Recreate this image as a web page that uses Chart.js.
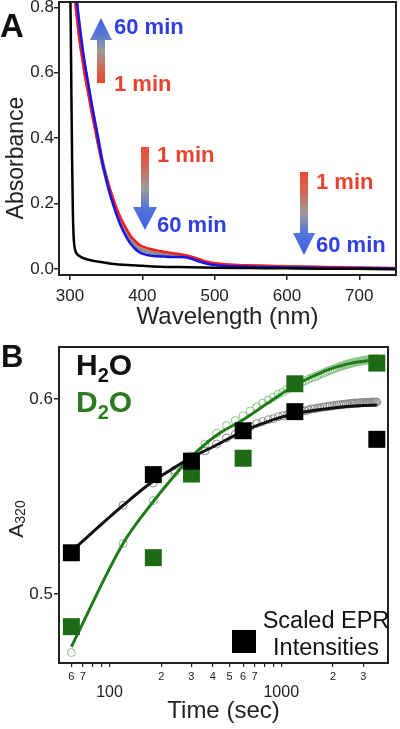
<!DOCTYPE html>
<html>
<head>
<meta charset="utf-8">
<title>Absorbance and A320 kinetics</title>
<script src="https://cdn.jsdelivr.net/npm/chart.js@4.4.1/dist/chart.umd.min.js"></script>
<style>
  body { margin: 0; background: #fff; }
  #page { position: relative; width: 400px; height: 729px; overflow: hidden; font-family: 'Liberation Sans', Arial, sans-serif; color: #111; }
  canvas { position: absolute; left: 0; }
  .lbl { position: absolute; line-height: 1; white-space: nowrap; }
  .bold { font-weight: bold; }
  .red { color: #e8432f; }
  .blue { color: #3040e0; }
  .rot { position: absolute; transform: translate(-50%, -50%) rotate(-90deg); line-height: 1; white-space: nowrap; color: #222; }
  .sub2 { font-size: 20px; position: relative; top: 7px; }
  .arrow { position: absolute; }
</style>
</head>
<body>
<div id="page">
  <canvas id="chartA" width="400" height="335" style="top:0px"></canvas>
  <canvas id="chartB" width="400" height="394" style="top:335px"></canvas>

  <!-- panel A labels and arrows -->
  <div class="lbl bold" style="left:0px; top:9px; font-size:33px;">A</div>
  <div class="rot" style="left:15px; top:158px; font-size:23px;">Absorbance</div>

  <div class="arrow" style="left:90px; top:18px; width:22px; height:65px;
       clip-path: polygon(11px 0, 22px 22px, 15px 22px, 15px 65px, 7px 65px, 7px 22px, 0 22px);
       background: linear-gradient(to top, #ec4a36 0%, #d9604f 20%, #9c9c9c 50%, #5577d8 75%, #3f63e4 100%);"></div>
  <div class="lbl bold blue" style="left:114px; top:16px; font-size:22px;">60 min</div>
  <div class="lbl bold red" style="left:114px; top:73px; font-size:22px;">1 min</div>

  <div class="arrow" style="left:133px; top:147px; width:24px; height:83px;
       clip-path: polygon(8px 0, 16px 0, 16px 60px, 24px 60px, 12px 83px, 0 60px, 8px 60px);
       background: linear-gradient(to bottom, #ec4a36 0%, #d9604f 20%, #9c9c9c 50%, #5577d8 72%, #3f5ee8 100%);"></div>
  <div class="lbl bold red" style="left:157px; top:144px; font-size:22px;">1 min</div>
  <div class="lbl bold blue" style="left:157px; top:214px; font-size:22px;">60 min</div>

  <div class="arrow" style="left:293px; top:172px; width:22px; height:83px;
       clip-path: polygon(7px 0, 15px 0, 15px 61px, 22px 61px, 11px 83px, 0 61px, 7px 61px);
       background: linear-gradient(to bottom, #ec4a36 0%, #d9604f 20%, #9c9c9c 50%, #5577d8 72%, #3f5ee8 100%);"></div>
  <div class="lbl bold red" style="left:316px; top:171px; font-size:22px;">1 min</div>
  <div class="lbl bold blue" style="left:316px; top:234px; font-size:22px;">60 min</div>

  <!-- panel B labels -->
  <div class="lbl bold" style="left:1px; top:341px; font-size:31px;">B</div>
  <div class="lbl bold" style="left:76px; top:350px; font-size:30px;">H<span class="sub2">2</span>O</div>
  <div class="lbl bold" style="left:76px; top:387px; font-size:30px; color:#2d7a22;">D<span class="sub2">2</span>O</div>
  <div class="rot" style="left:15px; top:519px; font-size:21px;">A<span style="font-size:14px; position:relative; top:2px;">320</span></div>

  <div style="position:absolute; left:232px; top:630px; width:24px; height:23px; background:#000;"></div>
  <div class="lbl" style="left:246px; top:607px; width:160px; text-align:center; font-size:23.5px; line-height:27px;">Scaled EPR<br>Intensities</div>
</div>

<script>
// ---- Panel A: UV-vis spectra ----
const wavelength = [305, 308, 310, 312, 315, 318, 320,
    325, 330, 335, 340, 345, 350, 355, 360, 365, 370, 375, 380, 385, 390, 395, 400,
    410, 420, 430, 440, 450, 460, 470, 480, 490, 500,
    520, 550, 600, 650, 700, 750];
const abs1min = [0.90, 0.80, 0.76, 0.72, 0.67, 0.63, 0.60,
    0.54, 0.48, 0.425, 0.37, 0.322, 0.283, 0.246, 0.213, 0.183, 0.157, 0.135, 0.115, 0.098, 0.086, 0.076, 0.069,
    0.062, 0.057, 0.053, 0.049, 0.046, 0.042, 0.036, 0.029, 0.022, 0.018,
    0.014, 0.011, 0.008, 0.006, 0.004, 0.002];
const absMid = [0.93, 0.835, 0.785, 0.745, 0.69, 0.645, 0.615,
    0.553, 0.492, 0.435, 0.378, 0.323, 0.279, 0.239, 0.204, 0.172, 0.145, 0.122, 0.102, 0.086, 0.074, 0.064, 0.058,
    0.052, 0.048, 0.045, 0.043, 0.041, 0.039, 0.033, 0.025, 0.019, 0.015,
    0.011, 0.009, 0.006, 0.004, 0.003, 0.001];
const abs60min = [0.97, 0.87, 0.81, 0.77, 0.715, 0.665, 0.635,
    0.57, 0.505, 0.445, 0.385, 0.325, 0.275, 0.232, 0.195, 0.162, 0.134, 0.11, 0.09, 0.074, 0.062, 0.053, 0.047,
    0.041, 0.039, 0.038, 0.037, 0.037, 0.036, 0.030, 0.022, 0.016, 0.012,
    0.009, 0.007, 0.005, 0.003, 0.002, 0.001];
const blankWl = [300, 301, 302, 303, 304, 305, 306, 308, 310, 312, 315, 320, 330, 340, 355, 380, 400, 425, 450, 500, 550, 600, 650, 700, 750];
const blankAbs = [0.90, 0.75, 0.52, 0.32, 0.17, 0.10, 0.072, 0.052, 0.045, 0.041, 0.037, 0.032, 0.026, 0.022, 0.017, 0.012, 0.010, 0.007, 0.006, 0.004, 0.003, 0.002, 0.001, 0.001, 0.000];
const wlTicks = [300, 400, 500, 600, 700];
const absTicks = [0.0, 0.2, 0.4, 0.6, 0.8];

// ---- Panel B: A320 vs time ----
const timeSec = [60, 120, 180, 240, 300, 360, 420, 480, 540, 600,
    660, 720, 780, 840, 900, 960, 1020, 1080, 1140, 1200,
    1260, 1320, 1380, 1440, 1500, 1560, 1620, 1680, 1740, 1800,
    1860, 1920, 1980, 2040, 2100, 2160, 2220, 2280, 2340, 2400,
    2460, 2520, 2580, 2640, 2700, 2760, 2820, 2880, 2940, 3000,
    3060, 3120, 3180, 3240, 3300, 3360, 3420, 3480, 3540, 3600];
const h2oA320 = [0.523, 0.5455, 0.557, 0.5635, 0.569, 0.5735, 0.577, 0.580, 0.582, 0.5845,
    0.586, 0.5875, 0.5885, 0.5895, 0.590, 0.591, 0.5915, 0.592, 0.5925, 0.593,
    0.5935, 0.594, 0.594, 0.5945, 0.595, 0.595, 0.5955, 0.5955, 0.596, 0.596,
    0.5962, 0.5965, 0.5965, 0.5968, 0.597, 0.597, 0.5972, 0.5972, 0.5975, 0.5975,
    0.5975, 0.5978, 0.5978, 0.598, 0.598, 0.598, 0.598, 0.5982, 0.5982, 0.5982,
    0.5983, 0.5983, 0.5984, 0.5984, 0.5985, 0.5985, 0.5985, 0.5985, 0.5985, 0.5985];
const d2oA320 = [0.470, 0.526, 0.548, 0.562, 0.571, 0.577, 0.5825, 0.5865, 0.589, 0.5915,
    0.594, 0.596, 0.598, 0.5995, 0.601, 0.6025, 0.6035, 0.605, 0.606, 0.607,
    0.608, 0.6088, 0.6095, 0.6102, 0.611, 0.6115, 0.612, 0.6127, 0.6132, 0.6138,
    0.6143, 0.6148, 0.6152, 0.6157, 0.616, 0.6165, 0.6168, 0.6172, 0.6175, 0.6178,
    0.618, 0.6183, 0.6185, 0.6188, 0.619, 0.6192, 0.6193, 0.6195, 0.6197, 0.6198,
    0.620, 0.620, 0.6202, 0.6203, 0.6204, 0.6205, 0.6205, 0.6206, 0.6206, 0.6207];
const fitTime = [60, 120, 180, 240, 300, 420, 600, 900, 1200, 1800, 2400, 3000, 3600];
const h2oFit = [0.522, 0.5455, 0.558, 0.565, 0.570, 0.5765, 0.5835, 0.5895, 0.5925, 0.5950, 0.5962, 0.5968, 0.5970];
const d2oFit = [0.473, 0.526, 0.5475, 0.561, 0.5705, 0.5815, 0.5895, 0.600, 0.607, 0.6145, 0.618, 0.6195, 0.620];
const eprTime = [60, 180, 300, 600, 1200, 3600];
const eprH2O = [0.5212, 0.5613, 0.5682, 0.5838, 0.5936, 0.5794];
const eprD2O = [0.4833, 0.5187, 0.5616, 0.5697, 0.6079, 0.6185];
const timeTickValues = [60, 70, 80, 90, 100, 200, 300, 400, 500, 600, 700, 800, 900, 1000, 2000, 3000];
const timeTickLabels = ['6', '7', '', '', '100', '2', '3', '4', '5', '6', '7', '', '', '1000', '2', '3'];
const a320Ticks = [0.5, 0.6];

Chart.defaults.font.family = "'Liberation Sans', Arial, sans-serif";
Chart.defaults.color = '#222';

// box around the plot area
const frameBox = {
    id: 'frameBox',
    afterDraw(chart) {
        const { ctx, chartArea } = chart;
        ctx.save();
        ctx.strokeStyle = '#222';
        ctx.lineWidth = 2;
        ctx.strokeRect(chartArea.left, chartArea.top, chartArea.right - chartArea.left, chartArea.bottom - chartArea.top);
        ctx.restore();
    }
};

// fix axis thickness so the plot area lands where the original one is
function pinAxis(size) {
    return function(scale) {
        if (scale.isHorizontal()) scale.height = size; else scale.width = size;
        scale.paddingLeft = 0;
        scale.paddingRight = 0;
        scale.paddingTop = 0;
        scale.paddingBottom = 0;
    };
}

function toPoints(xs, ys) {
    return xs.map((x, i) => ({ x: x, y: ys[i] }));
}

function spectrum(xs, ys, color, width, order) {
    return {
        data: toPoints(xs, ys),
        showLine: true,
        borderColor: color,
        borderWidth: width,
        pointRadius: 0,
        cubicInterpolationMode: 'monotone',
        order: order
    };
}

const tickGrid = { drawOnChartArea: false, drawTicks: true, tickLength: 5, color: '#222', lineWidth: 1.5 };

// Panel A chart
new Chart(document.getElementById('chartA'), {
    type: 'scatter',
    data: {
        datasets: [
            spectrum(blankWl, blankAbs, '#000000', 2.5, 0),
            spectrum(wavelength, abs60min, '#1414f0', 2.5, 1),
            spectrum(wavelength, abs1min, '#ff1a1a', 2.5, 2),
            spectrum(wavelength, absMid, '#8c8c8c', 4, 3)
        ]
    },
    options: {
        responsive: false,
        animation: false,
        layout: { padding: { left: 0, right: 4, top: 2, bottom: 0 } },
        plugins: { legend: { display: false }, tooltip: { enabled: false } },
        scales: {
            x: {
                type: 'linear',
                min: 284.8,
                max: 750.8,
                afterBuildTicks: s => { s.ticks = wlTicks.map(v => ({ value: v })); },
                afterFit: pinAxis(60),
                grid: tickGrid,
                border: { display: false },
                ticks: { font: { size: 17 }, padding: 6, maxRotation: 0, autoSkip: false, callback: v => String(v) },
                title: { display: true, text: 'Wavelength (nm)', font: { size: 24 }, padding: { top: 0, bottom: 3 } }
            },
            y: {
                min: -0.0183,
                max: 0.8162,
                afterBuildTicks: s => { s.ticks = absTicks.map(v => ({ value: v })); },
                afterFit: pinAxis(59),
                grid: tickGrid,
                border: { display: false },
                ticks: { font: { size: 17 }, padding: 0, callback: v => v.toFixed(1) }
            }
        }
    },
    plugins: [frameBox]
});

// Panel B chart
new Chart(document.getElementById('chartB'), {
    type: 'scatter',
    data: {
        datasets: [
            { data: toPoints(eprTime, eprH2O), pointStyle: 'rect', pointRadius: 12, backgroundColor: '#000', borderColor: '#000', borderWidth: 0, order: 0 },
            { data: toPoints(eprTime, eprD2O), pointStyle: 'rect', pointRadius: 12, backgroundColor: '#1e6b16', borderColor: '#1e6b16', borderWidth: 0, order: 1 },
            { data: toPoints(fitTime, h2oFit), showLine: true, borderColor: '#111', borderWidth: 3, pointRadius: 0, cubicInterpolationMode: 'monotone', order: 2 },
            { data: toPoints(fitTime, d2oFit), showLine: true, borderColor: '#217a1c', borderWidth: 3, pointRadius: 0, cubicInterpolationMode: 'monotone', order: 2 },
            { data: toPoints(timeSec, h2oA320), pointStyle: 'circle', pointRadius: 4, borderWidth: 1, borderColor: '#8a8a8a', backgroundColor: 'rgba(0,0,0,0)', order: 3 },
            { data: toPoints(timeSec, d2oA320), pointStyle: 'circle', pointRadius: 4, borderWidth: 1, borderColor: '#86c283', backgroundColor: 'rgba(0,0,0,0)', order: 3 }
        ]
    },
    options: {
        responsive: false,
        animation: false,
        layout: { padding: { left: 0, right: 2, top: 7, bottom: 0 } },
        plugins: { legend: { display: false }, tooltip: { enabled: false } },
        scales: {
            x: {
                type: 'logarithmic',
                min: 50.83,
                max: 4183,
                afterBuildTicks: s => {
                    s.ticks = timeTickValues.map(v => ({ value: v, major: v === 100 || v === 1000 }));
                },
                afterFit: pinAxis(66),
                grid: { drawOnChartArea: false, drawTicks: true, tickLength: 4, color: '#222', lineWidth: 1.2 },
                border: { display: false },
                ticks: {
                    padding: 3,
                    maxRotation: 0,
                    autoSkip: false,
                    font: ctx => (ctx.tick && ctx.tick.major) ? { size: 16, lineHeight: '15px' } : { size: 11, lineHeight: '14px' },
                    callback: (v, i) => (v === 100 || v === 1000) ? ['', timeTickLabels[i]] : timeTickLabels[i]
                },
                title: { display: true, text: 'Time (sec)', font: { size: 24 }, padding: { top: 0, bottom: 3 } }
            },
            y: {
                min: 0.46465,
                max: 0.62677,
                afterBuildTicks: s => { s.ticks = a320Ticks.map(v => ({ value: v })); },
                afterFit: pinAxis(59),
                grid: tickGrid,
                border: { display: false },
                ticks: { font: { size: 17 }, padding: 1, callback: v => v.toFixed(1) }
            }
        }
    },
    plugins: [frameBox]
});
</script>
</body>
</html>
